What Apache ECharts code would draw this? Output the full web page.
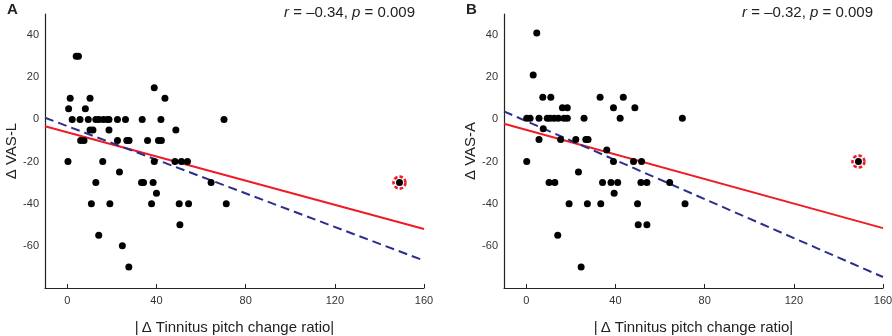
<!DOCTYPE html>
<html>
<head>
<meta charset="utf-8">
<script src="https://cdn.jsdelivr.net/npm/echarts@6/dist/echarts.min.js"></script>
<style>
  html, body { margin: 0; padding: 0; background: #fff; }
  #main { width: 892px; height: 336px; }
</style>
</head>
<body>
<div id="main"></div>
<script>
// panel A: |Δ pitch change ratio| vs Δ VAS-L
var lX = [4, 5, 39, 1.3, 10.2, 43.8, 0.6, 8.1,
  2.2, 5.7, 9.4, 12.8, 14.2, 16.2, 18.0, 18.7, 22.5, 26.1, 33.6, 42.0, 70.3,
  10.2, 11.5, 18.7, 48.7,
  6.0, 7.5, 22.5, 26.7, 27.7, 36.0, 40.9, 42.2,
  0.3, 15.9, 39, 48.3, 51.2, 53.9,
  23.4,
  12.8, 33.3, 34.2, 38.5, 64.5,
  40,
  10.8, 19.1, 37.8, 50.2, 54.4, 71.3,
  50.5, 14.1, 24.7, 27.6];
var lY = [30, 30, 15, 10, 10, 10, 5, 5,
  0, 0, 0, 0, 0, 0, 0, 0, 0, 0, 0, 0, 0,
  -5, -5, -5, -5,
  -10, -10, -10, -10, -10, -10, -10, -10,
  -20, -20, -20, -20, -20, -20,
  -25,
  -30, -30, -30, -30, -30,
  -35,
  -40, -40, -40, -40, -40, -40,
  -50, -55, -60, -70];
var outlierL = [149, -30];

// panel B: |Δ pitch change ratio| vs Δ VAS-A
var aX = [4.7, 3.1,
  7.4, 11.0, 33.1, 43.5,
  16.2, 18.4, 39.1, 48.7,
  0.2, 1.7, 5.7, 9.4, 10.7, 12.5, 14.4, 16.9, 18.4, 25.9, 42.1, 70.0,
  7.6,
  5.7, 15.4, 22.2, 26.7, 27.7,
  36.1,
  0.2, 39.1, 48.1, 51.7,
  23.4,
  10.2, 12.8, 34.2, 38.0, 41.0, 51.4, 54.1, 64.3,
  39.4,
  19.2, 27.4, 33.4, 49.9, 71.2,
  50.2, 54.1, 14.1, 24.6];
var aY = [41, 21,
  10.5, 10.5, 10.5, 10.5,
  5.5, 5.5, 5.5, 5.5,
  0.5, 0.5, 0.5, 0.5, 0.5, 0.5, 0.5, 0.5, 0.5, 0.5, 0.5, 0.5,
  -4.5,
  -9.5, -9.5, -9.5, -9.5, -9.5,
  -14.5,
  -20, -20, -20, -20,
  -25,
  -30, -30, -30, -30, -30, -30, -30, -30,
  -35,
  -40, -40, -40, -40, -40,
  -50, -50, -55, -70];
var outlierA = [149, -20];

// fit lines, evaluated at the ends of the x range
var fitX = [-10, 160];
var redL = [-3.3, -52];
var blueL = [0.8, -67];
var redA = [-2.1, -51.6];
var blueA = [3.8, -74.8];

var xTicks = [0, 40, 80, 120, 160];
var yTicks = [-60, -40, -20, 0, 20, 40];

function pairs(xs, ys) {
  var out = [];
  for (var i = 0; i < xs.length; i++) out.push([xs[i], ys[i]]);
  return out;
}

var font = 'Liberation Sans, Arial, sans-serif';

function xAxisFor(idx) {
  return {
    gridIndex: idx, type: 'value', min: -10, max: 160,
    name: '|\u2009\u0394 Tinnitus pitch change ratio|',
    nameLocation: 'middle', nameGap: 32,
    nameTextStyle: { fontFamily: font, fontSize: 15, color: '#222' },
    axisLine: { onZero: false, lineStyle: { color: '#222', width: 1.2 } },
    axisTick: { show: true, inside: true, length: 4, customValues: xTicks, lineStyle: { color: '#222' } },
    axisLabel: { customValues: xTicks, fontFamily: font, fontSize: 11, color: '#333', margin: 7 },
    splitLine: { show: false }
  };
}
function yAxisFor(idx, label) {
  return {
    gridIndex: idx, type: 'value', min: -80, max: 50,
    name: label, nameLocation: 'middle', nameGap: 26, nameRotate: 90,
    nameTextStyle: { fontFamily: font, fontSize: 15, color: '#222' },
    axisLine: { onZero: false, lineStyle: { color: '#222', width: 1.2 } },
    axisTick: { show: false },
    axisLabel: { customValues: yTicks, fontFamily: font, fontSize: 11, color: '#333', margin: 6 },
    splitLine: { show: false }
  };
}

function dots(idx, xs, ys) {
  return {
    type: 'scatter', xAxisIndex: idx, yAxisIndex: idx,
    data: pairs(xs, ys), symbolSize: 7, itemStyle: { color: '#000', opacity: 1 }, z: 3
  };
}
function ring(idx, pt) {
  return [{
    type: 'scatter', xAxisIndex: idx, yAxisIndex: idx, data: [pt], symbolSize: 12,
    itemStyle: { color: 'transparent', opacity: 1, borderColor: '#ee1c24', borderWidth: 2.6, borderType: [3.5, 2] }, z: 4
  }, {
    type: 'scatter', xAxisIndex: idx, yAxisIndex: idx, data: [pt], symbolSize: 7,
    itemStyle: { color: '#000', opacity: 1 }, z: 5
  }];
}
function fit(idx, ys, color, dashed) {
  return {
    type: 'line', xAxisIndex: idx, yAxisIndex: idx, data: pairs(fitX, ys),
    showSymbol: false, silent: true, z: 2,
    lineStyle: { color: color, width: 2, type: dashed ? [9, 5] : 'solid' }
  };
}

var chart = echarts.init(document.getElementById('main'), null, { renderer: 'canvas' });
chart.setOption({
  animation: false,
  backgroundColor: '#fff',
  grid: [
    { left: 45, top: 14, width: 379, height: 274, outerBoundsMode: 'none' },
    { left: 504, top: 14, width: 379, height: 274, outerBoundsMode: 'none' }
  ],
  xAxis: [xAxisFor(0), xAxisFor(1)],
  yAxis: [yAxisFor(0, '\u0394 VAS-L'), yAxisFor(1, '\u0394 VAS-A')],
  series: [
    fit(0, redL, '#ee1c24', false),
    fit(0, blueL, '#2b2e8c', true),
    dots(0, lX, lY)
  ].concat(ring(0, outlierL)).concat([
    fit(1, redA, '#ee1c24', false),
    fit(1, blueA, '#2b2e8c', true),
    dots(1, aX, aY)
  ]).concat(ring(1, outlierA)),
  graphic: [
    { type: 'text', left: 7, top: 2, style: { text: 'A', font: 'bold 15px ' + font, fill: '#222' } },
    { type: 'text', left: 466, top: 2, style: { text: 'B', font: 'bold 15px ' + font, fill: '#222' } },
    { type: 'text', right: 892 - 415, top: 5, style: {
      text: '{i|r} = \u20130.34, {i|p} = 0.009', font: '15px ' + font, fill: '#222',
      rich: { i: { fontStyle: 'italic', fontFamily: font, fontSize: 15, fill: '#222' } } } },
    { type: 'text', right: 892 - 873, top: 5, style: {
      text: '{i|r} = \u20130.32, {i|p} = 0.009', font: '15px ' + font, fill: '#222',
      rich: { i: { fontStyle: 'italic', fontFamily: font, fontSize: 15, fill: '#222' } } } }
  ]
});
</script>
</body>
</html>
